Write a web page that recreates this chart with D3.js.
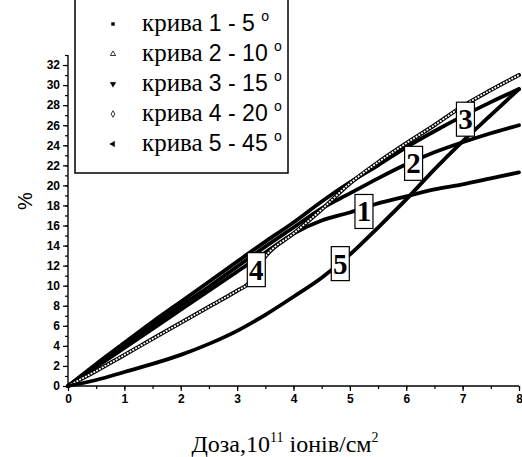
<!DOCTYPE html>
<html>
<head>
<meta charset="utf-8">
<script src="https://cdn.jsdelivr.net/npm/d3@7"></script>
<style>
  html, body { margin: 0; padding: 0; background: #fff; }
  svg { display: block; }
</style>
</head>
<body>
<svg id="chart" width="522" height="457"></svg>
<script>
// Dose points (10^11 ions/cm^2)
const dose = [0, 0.5, 1, 1.5, 2, 2.5, 3, 3.5, 4, 4.5, 5, 5.5, 6, 6.5, 7, 7.5, 8];
// the 20° curve has an extra reading just before its step near 3.2
const dose4 = [0, 0.5, 1, 1.5, 2, 2.5, 3, 3.2, 3.5, 4, 4.5, 5, 5.5, 6, 6.5, 7, 7.5, 8];

// Measured values, %
const curve1 = [0, 1.9, 3.8, 5.7, 7.6, 9.5, 11.4, 13.3, 15.2, 16.5, 17.3, 18.2, 18.9, 19.6, 20.1, 20.7, 21.3];
const curve2 = [0, 2.0, 4.0, 6.0, 8.0, 9.9, 11.9, 13.9, 15.8, 17.7, 19.2, 20.7, 22.1, 23.3, 24.3, 25.2, 26.0];
const curve3 = [0, 2.2, 4.3, 6.4, 8.4, 10.4, 12.4, 14.4, 16.3, 18.4, 20.3, 22.0, 23.8, 25.4, 26.9, 28.3, 29.6];
const curve4 = [0, 1.5, 3.1, 4.7, 6.3, 7.9, 9.5, 10.2, 12.9, 15.2, 17.6, 20.2, 22.3, 24.2, 26.0, 27.9, 29.5, 31.0];
const curve5 = [0, 0.6, 1.4, 2.2, 3.1, 4.2, 5.5, 7.1, 8.9, 10.8, 13.1, 15.8, 18.6, 21.6, 24.4, 27.0, 29.6];

const seriesValues = [curve1, curve2, curve3, curve4, curve5];
const seriesDose = [dose, dose, dose, dose4, dose];
const seriesNames = ["крива 1 - 5", "крива 2 - 10", "крива 3 - 15", "крива 4 - 20", "крива 5 - 45"];
const seriesIds = ["1", "2", "3", "4", "5"];

// Where each curve's number tag sits (dose, %)
const tagDose = [5.25, 6.13, 7.05, 3.34, 4.83];
const tagValue = [17.4, 22.2, 26.6, 11.6, 12.2];

const xTicks = [0, 1, 2, 3, 4, 5, 6, 7, 8];
const yTicks = [0, 2, 4, 6, 8, 10, 12, 14, 16, 18, 20, 22, 24, 26, 28, 30, 32];

const svg = d3.select("#chart");

const x = d3.scaleLinear().domain([0, 8]).range([68, 519]);
const y = d3.scaleLinear().domain([0, 33]).range([386, 55]);

const sans = "'Liberation Sans', Arial, sans-serif";
const serif = "'Liberation Serif', 'Times New Roman', serif";

// ---- axes ----
const xAxisG = svg.append("g").attr("transform", `translate(0,${y(0)})`);
xAxisG.call(d3.axisBottom(x).tickValues(d3.range(0, 8.01, 0.5)).tickSize(3).tickFormat(""))
  .call(g => g.select(".domain").remove());
xAxisG.append("g")
  .call(d3.axisBottom(x).tickValues(xTicks).tickSize(5).tickPadding(3).tickFormat(d3.format("d")))
  .call(g => g.select(".domain").attr("stroke-width", 1.4).attr("d", `M${x(0)},0H${x(8)}`))
  .call(g => g.selectAll("text").attr("font-family", sans).attr("font-weight", "bold")
    .attr("font-size", 12).attr("fill", "#000"));
xAxisG.selectAll("line").attr("stroke", "#000").attr("stroke-width", 1.2);

const yAxisG = svg.append("g").attr("transform", `translate(${x(0)},0)`);
yAxisG.call(d3.axisLeft(y).tickValues(d3.range(0, 33.01, 1)).tickSize(3).tickFormat(""))
  .call(g => g.select(".domain").remove());
yAxisG.append("g")
  .call(d3.axisLeft(y).tickValues(yTicks).tickSize(5).tickPadding(3).tickFormat(d3.format("d")))
  .call(g => g.select(".domain").attr("stroke-width", 1.4).attr("d", `M0,${y(0)}V${y(33)}`))
  .call(g => g.selectAll("text").attr("font-family", sans).attr("font-weight", "bold")
    .attr("font-size", 12).attr("fill", "#000"));
yAxisG.selectAll("line").attr("stroke", "#000").attr("stroke-width", 1.2);

// ---- curves ----
const curvesG = svg.append("g");
seriesValues.forEach((vals, k) => {
  const xs = seriesDose[k];
  const line = d3.line()
    .x((d, i) => x(xs[i]))
    .y(d => y(d))
    .curve(d3.curveMonotoneX);
  curvesG.append("path")
    .attr("d", line(vals))
    .attr("fill", "none")
    .attr("stroke", "#000")
    .attr("stroke-width", k === 3 ? 4 : 3.8)
    .attr("stroke-linejoin", "round")
    .attr("stroke-linecap", "round");
  if (k === 3) {
    // speckled light core of the 20° curve
    curvesG.append("path")
      .attr("d", line(vals))
      .attr("fill", "none")
      .attr("stroke", "#fff")
      .attr("stroke-width", 1.8)
      .attr("stroke-dasharray", "2 1.2");
  }
});

// ---- number tags on curves ----
const tagG = svg.append("g");
seriesIds.forEach((id, k) => {
  const cx = x(tagDose[k]), cy = y(tagValue[k]);
  tagG.append("rect")
    .attr("x", cx - 9).attr("y", cy - 17)
    .attr("width", 18).attr("height", 34)
    .attr("fill", "#fff").attr("stroke", "#000").attr("stroke-width", 1.2);
  tagG.append("text")
    .attr("x", cx).attr("y", cy + 10)
    .attr("text-anchor", "middle")
    .attr("font-family", serif).attr("font-weight", "bold").attr("font-size", 29)
    .text(id);
});

// ---- legend ----
const legendG = svg.append("g");
legendG.append("rect")
  .attr("x", 75).attr("y", -10).attr("width", 213).attr("height", 183)
  .attr("fill", "#fff").attr("stroke", "#000").attr("stroke-width", 1.5);

const symbols = [
  { type: d3.symbolSquare, size: 9, rot: 0, fill: "#000" },
  { type: d3.symbolTriangle, size: 12, rot: 0, fill: "none" },
  { type: d3.symbolTriangle, size: 14, rot: 180, fill: "#000" },
  { type: d3.symbolDiamond, size: 12, rot: 0, fill: "none" },
  { type: d3.symbolTriangle, size: 14, rot: -90, fill: "#000" }
];

seriesNames.forEach((name, k) => {
  const base = 31 + k * 30;
  const s = symbols[k];
  legendG.append("path")
    .attr("d", d3.symbol().type(s.type).size(s.size)())
    .attr("transform", `translate(113,${base - 7}) rotate(${s.rot})`)
    .attr("fill", s.fill)
    .attr("stroke", "#000").attr("stroke-width", s.fill === "none" ? 0.8 : 0.4);
  const parts = name.split(" ");
  const t = legendG.append("text")
    .attr("x", 142).attr("y", base)
    .attr("font-size", 23).attr("fill", "#000");
  t.append("tspan").attr("font-family", serif).attr("font-size", 25).text(parts[0] + " ");
  t.append("tspan").attr("font-family", sans).text(parts.slice(1).join(" ") + " ");
  t.append("tspan").attr("font-family", sans).attr("font-size", 14).attr("dy", -10).text("o");
});

// ---- axis titles ----
const xt = svg.append("text")
  .attr("x", 285).attr("y", 452)
  .attr("text-anchor", "middle")
  .attr("font-family", serif).attr("font-size", 24).attr("fill", "#000");
xt.append("tspan").text("Доза,10");
xt.append("tspan").attr("font-size", 14).attr("dy", -10).text("11");
xt.append("tspan").attr("dy", 10).text(" іонів/см");
xt.append("tspan").attr("font-size", 14).attr("dy", -10).text("2");

svg.append("text")
  .attr("transform", "translate(32,201) rotate(-90)")
  .attr("text-anchor", "middle")
  .attr("font-family", sans).attr("font-size", 20).attr("fill", "#000")
  .text("%");
</script>
</body>
</html>
